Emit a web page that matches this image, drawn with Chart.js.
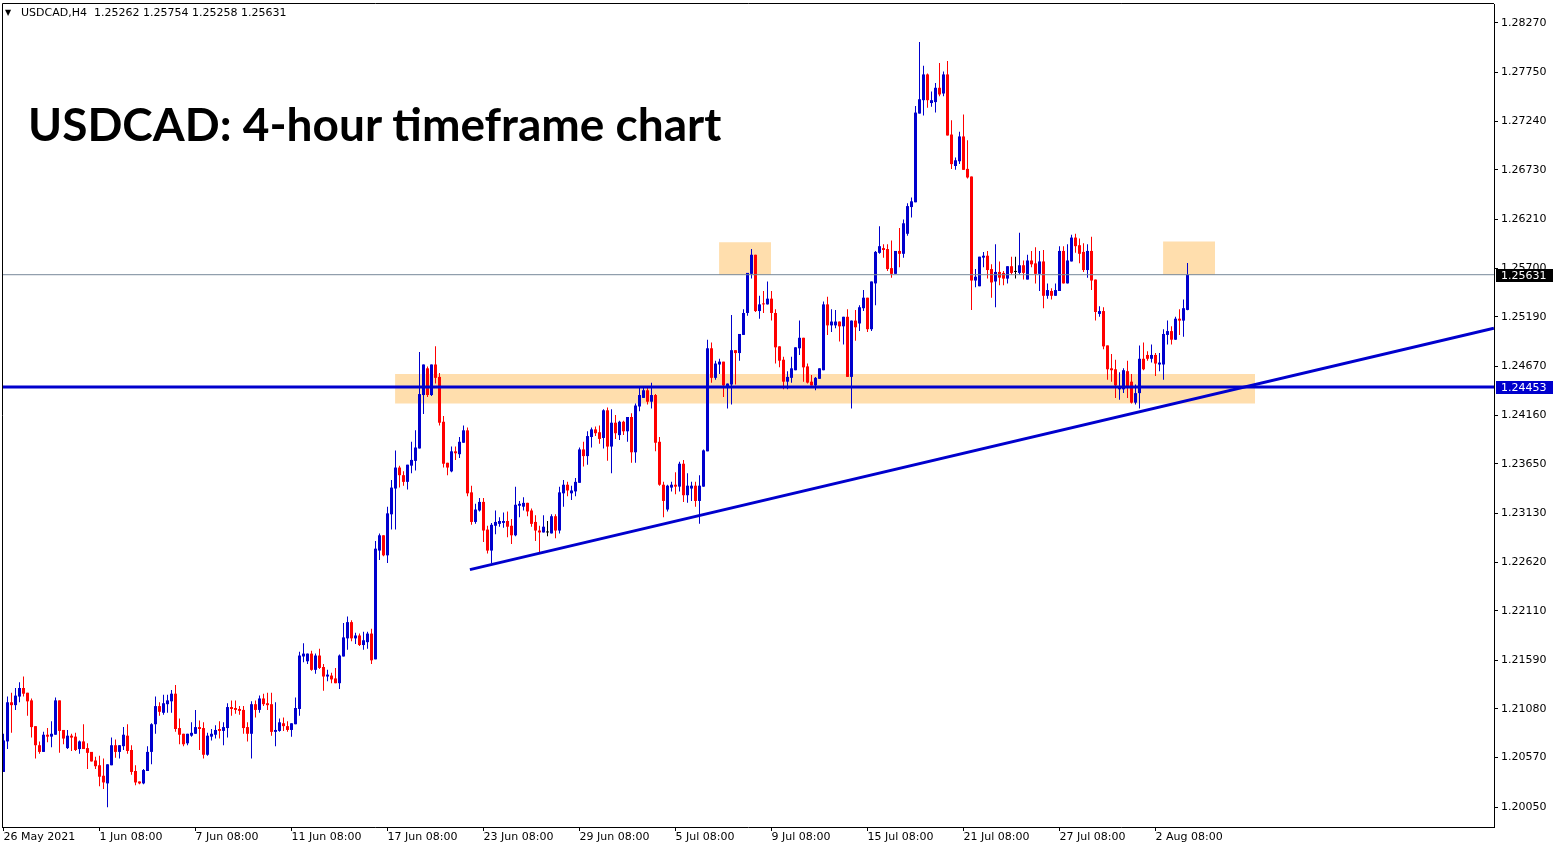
<!DOCTYPE html>
<html>
<head>
<meta charset="utf-8">
<title>USDCAD H4</title>
<script src="https://cdn.jsdelivr.net/npm/chart.js@4.4.1/dist/chart.umd.min.js"></script>
<style>
  html, body { margin: 0; padding: 0; background: #ffffff; }
  #wrap { position: relative; width: 1558px; height: 850px; overflow: hidden; }
  #chart { position: absolute; left: 0; top: 0; }
  #arrow { position: absolute; left: 5px; top: 6px; font: 8px/13px "DejaVu Sans", sans-serif; color: #000; }
  #header { position: absolute; left: 21px; top: 6px; font: 11px/13px "DejaVu Sans", sans-serif; color: #000; white-space: pre; }
  #title { position: absolute; left: 28px; top: 96px; font: bold 46px/55px Lato, sans-serif; color: #000; white-space: nowrap; }
</style>
</head>
<body>
<div id="wrap">
  <canvas id="chart" width="1558" height="850"></canvas>
  <div id="arrow">▼</div>
  <div id="header"></div>
  <div id="title">USDCAD: 4-hour timeframe chart</div>
</div>
<script>
// USDCAD H4 candles, 26 May 2021 08:00 -> 3 Aug 2021 16:00 (one value per bar)
const opens = [
  1.2042,1.2074,1.2115,1.2112,1.2121,1.2130,1.2125,1.2117,1.2090,1.2070,
  1.2063,1.2081,1.2079,1.2081,1.2117,1.2086,1.2067,1.2080,1.2079,1.2066,
  1.2074,1.2067,1.2063,1.2054,1.2049,1.2038,1.2030,1.2049,1.2070,1.2063,
  1.2069,1.2080,1.2065,1.2043,1.2032,1.2030,1.2043,1.2063,1.2092,1.2111,
  1.2104,1.2113,1.2116,1.2124,1.2088,1.2082,1.2072,1.2080,1.2082,1.2089,
  1.2088,1.2060,1.2079,1.2081,1.2087,1.2085,1.2088,1.2110,1.2109,1.2108,
  1.2107,1.2089,1.2082,1.2113,1.2107,1.2119,1.2114,1.2113,1.2084,1.2085,
  1.2093,1.2090,1.2086,1.2092,1.2108,1.2163,1.2158,1.2166,1.2149,1.2164,
  1.2152,1.2142,1.2143,1.2140,1.2135,1.2163,1.2182,1.2199,1.2182,1.2185,
  1.2175,1.2178,1.2187,1.2160,1.2274,1.2290,1.2269,1.2312,1.2339,1.2361,
  1.2353,1.2346,1.2363,1.2368,1.2381,1.2437,1.2465,1.2437,1.2469,1.2456,
  1.2409,1.2366,1.2357,1.2378,1.2375,1.2387,1.2400,1.2335,1.2304,1.2316,
  1.2325,1.2296,1.2274,1.2300,1.2302,1.2303,1.2305,1.2300,1.2290,1.2321,
  1.2320,1.2324,1.2316,1.2304,1.2295,1.2293,1.2293,1.2292,1.2310,1.2295,
  1.2334,1.2343,1.2334,1.2336,1.2345,1.2380,1.2373,1.2393,1.2401,1.2398,
  1.2392,1.2421,1.2383,1.2408,1.2395,1.2409,1.2399,1.2414,1.2377,1.2425,
  1.2434,1.2442,1.2430,1.2437,1.2388,1.2343,1.2317,1.2340,1.2343,1.2341,
  1.2365,1.2332,1.2339,1.2342,1.2326,1.2341,1.2378,1.2486,1.2455,1.2469,
  1.2472,1.2446,1.2448,1.2484,1.2481,1.2500,1.2523,1.2564,1.2584,1.2525,
  1.2533,1.2532,1.2538,1.2523,1.2488,1.2474,1.2451,1.2455,1.2463,1.2486,
  1.2497,1.2467,1.2451,1.2447,1.2454,1.2463,1.2532,1.2510,1.2510,1.2514,
  1.2509,1.2519,1.2456,1.2515,1.2512,1.2528,1.2539,1.2506,1.2554,1.2586,
  1.2591,1.2590,1.2570,1.2564,1.2588,1.2585,1.2606,1.2634,1.2639,1.2732,
  1.2746,1.2773,1.2743,1.2744,1.2759,1.2753,1.2773,1.2710,1.2677,1.2682,
  1.2708,1.2674,1.2666,1.2557,1.2551,1.2581,1.2583,1.2569,1.2556,1.2566,
  1.2565,1.2559,1.2572,1.2566,1.2565,1.2573,1.2558,1.2578,1.2575,1.2564,
  1.2577,1.2541,1.2546,1.2541,1.2546,1.2588,1.2554,1.2577,1.2602,1.2594,
  1.2587,1.2568,1.2588,1.2558,1.2522,1.2525,1.2489,1.2465,1.2464,1.2443,
  1.2443,1.2462,1.2451,1.2429,1.2439,1.2475,1.2479,1.2475,1.2479,1.2469,
  1.2469,1.2500,1.2504,1.2495,1.2517,1.2515,1.25262
];
const highs = [
  1.2082,1.2121,1.2125,1.2130,1.2136,1.2142,1.2125,1.2119,1.2090,1.2074,
  1.2084,1.2088,1.2095,1.2120,1.2117,1.2086,1.2086,1.2082,1.2083,1.2075,
  1.2092,1.2072,1.2063,1.2058,1.2059,1.2056,1.2050,1.2078,1.2076,1.2070,
  1.2089,1.2092,1.2070,1.2049,1.2032,1.2045,1.2069,1.2093,1.2121,1.2115,
  1.2123,1.2123,1.2128,1.2133,1.2098,1.2082,1.2082,1.2094,1.2107,1.2096,
  1.2094,1.2083,1.2087,1.2091,1.2095,1.2094,1.2114,1.2117,1.2117,1.2111,
  1.2111,1.2094,1.2116,1.2117,1.2122,1.2124,1.2125,1.2125,1.2115,1.2098,
  1.2099,1.2095,1.2093,1.2120,1.2168,1.2177,1.2166,1.2169,1.2166,1.2171,
  1.2155,1.2149,1.2146,1.2151,1.2165,1.2198,1.2205,1.2201,1.2188,1.2187,
  1.2189,1.2189,1.2192,1.2284,1.2292,1.2290,1.2320,1.2348,1.2379,1.2363,
  1.2357,1.2364,1.2388,1.2400,1.2482,1.2469,1.2467,1.2469,1.2488,1.2460,
  1.2415,1.2366,1.2383,1.2383,1.2393,1.2405,1.2403,1.2342,1.2323,1.2329,
  1.2329,1.2300,1.2303,1.2316,1.2309,1.2314,1.2315,1.2307,1.2341,1.2326,
  1.2330,1.2324,1.2318,1.2311,1.2300,1.2311,1.2305,1.2312,1.2312,1.2341,
  1.2348,1.2346,1.2342,1.2350,1.2382,1.2388,1.2399,1.2403,1.2404,1.2405,
  1.2422,1.2424,1.2422,1.2416,1.2410,1.2410,1.2414,1.2418,1.2428,1.2445,
  1.2445,1.2445,1.2450,1.2438,1.2393,1.2346,1.2343,1.2346,1.2356,1.2367,
  1.2369,1.2355,1.2346,1.2346,1.2353,1.2380,1.2495,1.2492,1.2473,1.2475,
  1.2472,1.2449,1.2521,1.2484,1.2501,1.2527,1.2565,1.2590,1.2584,1.2541,
  1.2546,1.2556,1.2546,1.2527,1.2488,1.2477,1.2462,1.2477,1.2487,1.2515,
  1.2497,1.2470,1.2458,1.2456,1.2465,1.2535,1.2540,1.2527,1.2526,1.2514,
  1.2519,1.2527,1.2515,1.2526,1.2531,1.2547,1.2539,1.2556,1.2588,1.2614,
  1.2595,1.2595,1.2599,1.2588,1.2612,1.2621,1.2638,1.2644,1.2740,1.2807,
  1.2782,1.2774,1.2755,1.2764,1.2785,1.2776,1.2787,1.2725,1.2686,1.2713,
  1.2731,1.2704,1.2666,1.2569,1.2582,1.2587,1.2588,1.2574,1.2595,1.2577,
  1.2567,1.2572,1.2582,1.2582,1.2607,1.2578,1.2584,1.2588,1.2592,1.2588,
  1.2589,1.2554,1.2549,1.2554,1.2593,1.2593,1.2595,1.2605,1.2606,1.2601,
  1.2596,1.2595,1.2603,1.2558,1.2530,1.2529,1.2489,1.2480,1.2474,1.2461,
  1.2465,1.2473,1.2459,1.2448,1.2489,1.2492,1.2483,1.2490,1.2481,1.2481,
  1.2506,1.2515,1.2509,1.2519,1.2527,1.2537,1.25754
];
const lows = [
  1.2042,1.2066,1.2083,1.2107,1.2115,1.2121,1.2101,1.2078,1.2056,1.2061,
  1.2063,1.2073,1.2068,1.2081,1.2062,1.2071,1.2066,1.2064,1.2064,1.2061,
  1.2066,1.2045,1.2053,1.2045,1.2027,1.2024,1.2005,1.2049,1.2057,1.2056,
  1.2065,1.2061,1.2039,1.2028,1.2029,1.2029,1.2043,1.2050,1.2082,1.2101,
  1.2102,1.2104,1.2104,1.2084,1.2071,1.2069,1.2070,1.2079,1.2082,1.2065,
  1.2056,1.2059,1.2075,1.2077,1.2077,1.2070,1.2078,1.2101,1.2103,1.2102,
  1.2082,1.2074,1.2056,1.2099,1.2104,1.2111,1.2107,1.2080,1.2069,1.2084,
  1.2085,1.2084,1.2079,1.2092,1.2101,1.2157,1.2155,1.2148,1.2145,1.2150,
  1.2127,1.2137,1.2135,1.2135,1.2129,1.2163,1.2170,1.2179,1.2176,1.2174,
  1.2170,1.2171,1.2155,1.2160,1.2264,1.2268,1.2261,1.2296,1.2296,1.2340,
  1.2342,1.2338,1.2355,1.2358,1.2381,1.2417,1.2435,1.2436,1.2449,1.2405,
  1.2361,1.2353,1.2356,1.2369,1.2371,1.2387,1.2331,1.2301,1.2302,1.2315,
  1.2283,1.2271,1.2261,1.2291,1.2299,1.2298,1.2288,1.2281,1.2289,1.2309,
  1.2316,1.2310,1.2299,1.2284,1.2272,1.2293,1.2289,1.2292,1.2287,1.2292,
  1.2320,1.2331,1.2327,1.2331,1.2345,1.2362,1.2364,1.2382,1.2394,1.2386,
  1.2381,1.2368,1.2355,1.2391,1.2390,1.2395,1.2388,1.2366,1.2366,1.2420,
  1.2434,1.2427,1.2423,1.2378,1.2342,1.2309,1.2315,1.2336,1.2333,1.2336,
  1.2325,1.2324,1.2326,1.2320,1.2302,1.2341,1.2378,1.2450,1.2453,1.2459,
  1.2435,1.2423,1.2427,1.2448,1.2473,1.2500,1.2520,1.2559,1.2524,1.2517,
  1.2523,1.2532,1.2515,1.2470,1.2466,1.2443,1.2443,1.2450,1.2463,1.2479,
  1.2451,1.2449,1.2447,1.2442,1.2454,1.2463,1.2500,1.2503,1.2507,1.2493,
  1.2490,1.2456,1.2423,1.2494,1.2504,1.2525,1.2503,1.2504,1.2531,1.2585,
  1.2581,1.2567,1.2560,1.2564,1.2571,1.2581,1.2604,1.2623,1.2639,1.2732,
  1.2730,1.2738,1.2739,1.2733,1.2750,1.2750,1.2709,1.2674,1.2673,1.2679,
  1.2673,1.2664,1.2526,1.2550,1.2551,1.2571,1.2559,1.2539,1.2529,1.2552,
  1.2552,1.2554,1.2563,1.2559,1.2563,1.2558,1.2558,1.2571,1.2554,1.2546,
  1.2528,1.2538,1.2537,1.2541,1.2546,1.2554,1.2554,1.2577,1.2586,1.2575,
  1.2566,1.2560,1.2547,1.2515,1.2519,1.2485,1.2453,1.2451,1.2434,1.2432,
  1.2439,1.2434,1.2428,1.2427,1.2423,1.2463,1.2473,1.2471,1.2457,1.2462,
  1.2453,1.2490,1.2490,1.2495,1.2500,1.2498,1.25258
];
const closes = [
  1.2075,1.2115,1.2112,1.2122,1.2130,1.2124,1.2116,1.2089,1.2070,1.2063,
  1.2081,1.2079,1.2082,1.2117,1.2085,1.2077,1.2080,1.2078,1.2065,1.2074,
  1.2066,1.2062,1.2053,1.2048,1.2037,1.2031,1.2050,1.2070,1.2063,1.2070,
  1.2081,1.2064,1.2042,1.2031,1.2030,1.2044,1.2063,1.2092,1.2111,1.2105,
  1.2114,1.2117,1.2124,1.2087,1.2081,1.2071,1.2082,1.2083,1.2089,1.2087,
  1.2060,1.2080,1.2082,1.2086,1.2085,1.2089,1.2110,1.2108,1.2107,1.2106,
  1.2088,1.2082,1.2113,1.2107,1.2119,1.2113,1.2112,1.2084,1.2086,1.2094,
  1.2090,1.2086,1.2093,1.2109,1.2164,1.2166,1.2166,1.2149,1.2164,1.2151,
  1.2142,1.2144,1.2139,1.2135,1.2164,1.2183,1.2199,1.2182,1.2185,1.2175,
  1.2180,1.2187,1.2159,1.2276,1.2290,1.2269,1.2313,1.2340,1.2361,1.2353,
  1.2346,1.2364,1.2369,1.2382,1.2438,1.2469,1.2437,1.2469,1.2455,1.2408,
  1.2365,1.2361,1.2378,1.2376,1.2388,1.2400,1.2334,1.2304,1.2317,1.2325,
  1.2295,1.2274,1.2301,1.2304,1.2305,1.2305,1.2299,1.2290,1.2322,1.2323,
  1.2324,1.2315,1.2302,1.2295,1.2293,1.2299,1.2293,1.2310,1.2295,1.2335,
  1.2343,1.2337,1.2337,1.2346,1.2380,1.2373,1.2394,1.2401,1.2397,1.2391,
  1.2421,1.2383,1.2408,1.2397,1.2409,1.2399,1.2414,1.2377,1.2426,1.2437,
  1.2442,1.2430,1.2437,1.2387,1.2343,1.2326,1.2342,1.2343,1.2341,1.2365,
  1.2332,1.2342,1.2342,1.2326,1.2342,1.2379,1.2486,1.2455,1.2470,1.2472,
  1.2447,1.2449,1.2484,1.2481,1.2501,1.2523,1.2565,1.2584,1.2525,1.2532,
  1.2532,1.2538,1.2523,1.2487,1.2473,1.2451,1.2456,1.2465,1.2487,1.2497,
  1.2466,1.2450,1.2447,1.2455,1.2465,1.2532,1.2510,1.2514,1.2514,1.2509,
  1.2519,1.2456,1.2515,1.2508,1.2529,1.2539,1.2506,1.2556,1.2587,1.2593,
  1.2589,1.2569,1.2564,1.2588,1.2585,1.2617,1.2635,1.2640,1.2733,1.2747,
  1.2773,1.2746,1.2746,1.2759,1.2752,1.2773,1.2709,1.2679,1.2683,1.2708,
  1.2673,1.2665,1.2557,1.2561,1.2582,1.2583,1.2568,1.2555,1.2566,1.2560,
  1.2559,1.2572,1.2565,1.2566,1.2573,1.2565,1.2578,1.2574,1.2564,1.2577,
  1.2541,1.2547,1.2541,1.2547,1.2588,1.2554,1.2578,1.2602,1.2593,1.2585,
  1.2568,1.2588,1.2557,1.2524,1.2525,1.2488,1.2464,1.2463,1.2447,1.2446,
  1.2463,1.2445,1.2429,1.2439,1.2475,1.2464,1.2475,1.2479,1.2470,1.2471,
  1.2501,1.2504,1.2495,1.2517,1.2515,1.2528,1.25631
];

// axis labels
const xTickIndex = [0, 24, 48, 72, 96, 120, 144, 168, 192, 216, 240, 264, 288];
const xTickLabels = ['26 May 2021', '1 Jun 08:00', '7 Jun 08:00', '11 Jun 08:00', '17 Jun 08:00',
  '23 Jun 08:00', '29 Jun 08:00', '5 Jul 08:00', '9 Jul 08:00', '15 Jul 08:00',
  '21 Jul 08:00', '27 Jul 08:00', '2 Aug 08:00'];
const yTickValues = [1.28270, 1.27750, 1.27240, 1.26730, 1.26210, 1.25700, 1.25190, 1.24670,
  1.24160, 1.23650, 1.23130, 1.22620, 1.22110, 1.21590, 1.21080, 1.20570, 1.20050];

// drawn objects (bar index / price)
const supportLevel = 1.24453;
const bidPrice = 1.25631;
const trendX = [116.6, 372.6];
const trendY = [1.2254, 1.2507];
const zoneStart = [97.9, 178.9, 289.9];
const zoneEnd = [312.9, 191.9, 302.9];
const zoneTop = [1.2459, 1.2597, 1.2598];
const zoneBottom = [1.2428, 1.2563, 1.2563];

const BLUE = '#0000CD';
const RED = '#FF0000';
const ZONE = '#FFDEAD';
const BIDLINE = '#778899';
const xMin = -0.375, xMax = 372.625;

Chart.defaults.font.family = '"DejaVu Sans", sans-serif';
Chart.defaults.font.size = 11;
Chart.defaults.color = '#000';

// header line with the last bar
const last = closes.length - 1;
document.getElementById('header').textContent = 'USDCAD,H4  ' +
  [opens[last], highs[last], lows[last], closes[last]].map(v => v.toFixed(5)).join(' ');

const idx = closes.map((_, i) => i);
const candleColors = idx.map(i => closes[i] > opens[i] ? BLUE : (closes[i] < opens[i] ? RED : '#000'));

const datasets = [];

// zones behind everything
zoneTop.forEach((top, k) => {
  datasets.push({
    type: 'line',
    data: [{x: zoneStart[k], y: top}, {x: zoneEnd[k], y: top}],
    borderColor: 'rgba(0,0,0,0)',
    borderWidth: 1,
    pointRadius: 0,
    backgroundColor: ZONE,
    fill: {value: zoneBottom[k]},
    order: 10
  });
});

// wicks and bodies
datasets.push({
  type: 'bar',
  data: idx.map(i => ({x: i, y: [lows[i], highs[i]]})),
  backgroundColor: candleColors,
  barThickness: 1,
  grouped: false,
  inflateAmount: 0,
  borderWidth: 0,
  order: 3
});
datasets.push({
  type: 'bar',
  data: idx.map(i => ({x: i, y: [opens[i], closes[i]]})),
  backgroundColor: candleColors,
  barThickness: 3,
  minBarLength: 1,
  grouped: false,
  inflateAmount: 0,
  borderWidth: 0,
  order: 2
});

// bid line, support line, trend line
datasets.push({
  type: 'line',
  data: [{x: xMin, y: bidPrice}, {x: xMax, y: bidPrice}],
  borderColor: BIDLINE, borderWidth: 1, pointRadius: 0, order: 1
});
datasets.push({
  type: 'line',
  data: [{x: xMin, y: supportLevel}, {x: xMax, y: supportLevel}],
  borderColor: BLUE, borderWidth: 3, pointRadius: 0, order: 0
});
datasets.push({
  type: 'line',
  data: trendX.map((x, k) => ({x: x, y: trendY[k]})),
  borderColor: BLUE, borderWidth: 3, pointRadius: 0, order: 0
});

// frame on the left and top of the plot
const framePlugin = {
  id: 'frame',
  afterDraw(chart) {
    const {ctx, chartArea} = chart;
    ctx.save();
    ctx.strokeStyle = '#000';
    ctx.lineWidth = 1;
    ctx.beginPath();
    ctx.moveTo(chartArea.left + 0.5, chartArea.bottom);
    ctx.lineTo(chartArea.left + 0.5, chartArea.top - 0.5);
    ctx.lineTo(chartArea.right, chartArea.top - 0.5);
    ctx.stroke();
    ctx.restore();
  }
};

// price tags on the right axis
const tagValues = [bidPrice, supportLevel];
const tagColors = ['#000000', BLUE];
const priceTagPlugin = {
  id: 'priceTags',
  afterDraw(chart) {
    const {ctx, chartArea, scales} = chart;
    ctx.save();
    ctx.font = '11px "DejaVu Sans", sans-serif';
    ctx.textBaseline = 'middle';
    tagValues.forEach((v, k) => {
      const py = Math.round(scales.y.getPixelForValue(v));
      ctx.fillStyle = tagColors[k];
      ctx.fillRect(chartArea.right + 2, py - 6, 57, 13);
      ctx.fillStyle = '#fff';
      ctx.fillText(v.toFixed(5), chartArea.right + 7, py + 1);
    });
    ctx.restore();
  }
};

new Chart(document.getElementById('chart'), {
  type: 'bar',
  data: {datasets: datasets},
  options: {
    responsive: false,
    animation: false,
    devicePixelRatio: 1,
    layout: {padding: {left: 2, top: 4, right: 0, bottom: 0}},
    plugins: {legend: {display: false}, tooltip: {enabled: false}},
    scales: {
      x: {
        type: 'linear',
        min: xMin,
        max: xMax,
        offset: false,
        grid: {display: true, drawOnChartArea: false, drawTicks: true, tickLength: 4, color: '#000', offset: false},
        border: {display: true, color: '#000'},
        afterBuildTicks: scale => { scale.ticks = xTickIndex.map(v => ({value: v})); },
        afterFit: scale => { scale.height = 23; scale.paddingLeft = 0; scale.paddingRight = 0; },
        ticks: {
          align: 'start',
          padding: 0,
          autoSkip: false,
          maxRotation: 0,
          minRotation: 0,
          callback: v => xTickLabels[xTickIndex.indexOf(v)]
        }
      },
      y: {
        type: 'linear',
        position: 'right',
        min: 1.19843,
        max: 1.28468,
        grid: {display: true, drawOnChartArea: false, drawTicks: true, tickLength: 4, color: '#000'},
        border: {display: true, color: '#000'},
        afterBuildTicks: scale => { scale.ticks = yTickValues.map(v => ({value: v})); },
        afterFit: scale => { scale.width = 64; scale.paddingTop = 0; scale.paddingBottom = 0; },
        ticks: {
          padding: 3,
          autoSkip: false,
          callback: v => v.toFixed(5)
        }
      }
    }
  },
  plugins: [framePlugin, priceTagPlugin]
});
</script>
</body>
</html>
